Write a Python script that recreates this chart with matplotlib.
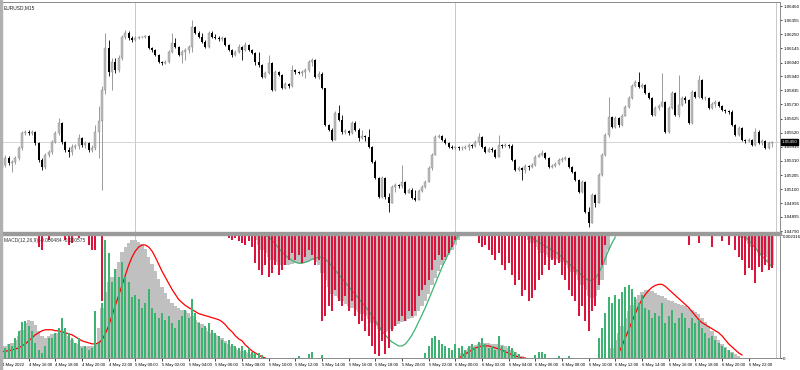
import numpy as np
import matplotlib
matplotlib.use('Agg')
import matplotlib.pyplot as plt
from matplotlib.patches import Rectangle

# EURUSD M15 quotes, in points above 1.00000 (4 May 14:00 .. 6 May 23:45)
first_open = 5258
close_pts = [
    5281, 5333, 5296, 5303, 5333, 5407, 5518, 5526, 5518, 5526,
    5444, 5318, 5266, 5355, 5377, 5451, 5518, 5592, 5451, 5392,
    5377, 5414, 5422, 5481, 5429, 5444, 5392, 5407, 5526, 5607,
    5837, 6149, 5971, 6045, 5986, 6075, 6230, 6260, 6223, 6208,
    6223, 6230, 6230, 6238, 6149, 6134, 6097, 6045, 6038, 6045,
    6119, 6186, 6156, 6097, 6119, 6134, 6156, 6305, 6260, 6230,
    6193, 6156, 6260, 6230, 6223, 6216, 6223, 6171, 6134, 6097,
    6119, 6156, 6134, 6171, 6134, 6112, 6045, 6023, 5934, 5963,
    6038, 5837, 5971, 5949, 5852, 5882, 5867, 5986, 5971, 5963,
    5971, 5986, 6045, 6060, 5934, 5956, 5852, 5578, 5540, 5466,
    5667, 5615, 5526, 5533, 5518, 5592, 5540, 5481, 5496, 5488,
    5414, 5303, 5184, 5043, 5184, 5043, 4999, 5118, 5132, 5125,
    5155, 5073, 5095, 5036, 5021, 5088, 5118, 5155, 5258, 5355,
    5488, 5496, 5466, 5444, 5414, 5407, 5414, 5407, 5407, 5414,
    5429, 5422, 5451, 5488, 5414, 5377, 5399, 5392, 5340, 5429,
    5422, 5429, 5422, 5318, 5244, 5258, 5244, 5273, 5266, 5281,
    5340, 5355, 5370, 5333, 5266, 5273, 5288, 5318, 5325, 5333,
    5266, 5229, 5169, 5080, 5155, 4932, 4850, 5058, 4999, 5207,
    5355, 5503, 5637, 5563, 5629, 5578, 5644, 5711, 5778, 5867,
    5897, 5859, 5874, 5815, 5778, 5652, 5704, 5718, 5748, 5526,
    5704, 5815, 5652, 5726, 5778, 5763, 5592, 5822, 5785, 5911,
    5778, 5778, 5704, 5733, 5748, 5718, 5689, 5681, 5674, 5578,
    5503, 5555, 5466, 5459, 5466, 5429, 5526, 5444, 5459, 5407,
    5444, 5451,
]
high_pts = [
    5303, 5355, 5348, 5318, 5348, 5422, 5533, 5540, 5540, 5540,
    5533, 5451, 5333, 5370, 5392, 5466, 5533, 5629, 5600, 5459,
    5414, 5437, 5437, 5511, 5488, 5459, 5451, 5429, 5578, 5718,
    5867, 6260, 6208, 6075, 6075, 6097, 6245, 6282, 6275, 6238,
    6238, 6238, 6238, 6245, 6245, 6156, 6141, 6104, 6052, 6060,
    6134, 6260, 6223, 6164, 6134, 6149, 6171, 6357, 6312, 6275,
    6260, 6208, 6275, 6275, 6253, 6238, 6238, 6230, 6179, 6141,
    6134, 6179, 6164, 6193, 6179, 6141, 6119, 6119, 6030, 5978,
    6097, 6045, 5986, 5978, 5956, 5897, 5889, 6023, 5993, 5978,
    5986, 6000, 6060, 6075, 6067, 5978, 5971, 5852, 5585, 5555,
    5681, 5726, 5652, 5548, 5540, 5607, 5607, 5555, 5540, 5503,
    5548, 5422, 5318, 5192, 5199, 5192, 5073, 5132, 5147, 5140,
    5281, 5162, 5110, 5110, 5095, 5103, 5132, 5169, 5273, 5370,
    5503, 5511, 5503, 5481, 5451, 5429, 5422, 5422, 5422, 5429,
    5444, 5437, 5466, 5518, 5496, 5422, 5414, 5414, 5399, 5503,
    5437, 5444, 5437, 5437, 5325, 5273, 5266, 5288, 5281, 5296,
    5355, 5370, 5392, 5377, 5340, 5288, 5303, 5333, 5340, 5348,
    5340, 5273, 5236, 5177, 5169, 5162, 4969, 5073, 5066, 5221,
    5370, 5518, 5785, 5644, 5644, 5637, 5659, 5726, 5793, 5882,
    5911, 5971, 5889, 5882, 5822, 5785, 5718, 5733, 5963, 5756,
    5718, 5830, 5822, 5949, 5793, 5793, 5770, 5837, 5830, 5949,
    5919, 5793, 5785, 5748, 5763, 5756, 5726, 5696, 5689, 5689,
    5585, 5570, 5563, 5474, 5481, 5474, 5555, 5540, 5474, 5466,
    5459, 5459,
]
low_pts = [
    5244, 5266, 5281, 5229, 5288, 5318, 5392, 5503, 5503, 5503,
    5429, 5303, 5244, 5251, 5340, 5362, 5444, 5503, 5437, 5377,
    5340, 5355, 5399, 5399, 5414, 5407, 5377, 5377, 5392, 5333,
    5095, 5807, 5941, 5837, 5963, 5971, 6060, 6216, 6208, 6193,
    6201, 6216, 6223, 6223, 6141, 6119, 6090, 6038, 6023, 6030,
    6038, 6112, 6149, 6090, 6038, 6060, 6112, 6119, 6253, 6223,
    6186, 6149, 6149, 6223, 6216, 6201, 6201, 6164, 6127, 6082,
    6090, 6112, 6060, 6127, 6127, 6104, 6023, 6008, 5926, 5926,
    5956, 5830, 5830, 5941, 5845, 5845, 5852, 5859, 5956, 5956,
    5941, 5926, 5971, 6015, 5926, 5919, 5845, 5570, 5533, 5459,
    5466, 5607, 5511, 5511, 5503, 5511, 5533, 5459, 5474, 5459,
    5407, 5296, 5177, 5036, 5036, 5028, 4932, 4999, 5080, 5110,
    5110, 5066, 5073, 5028, 5014, 5021, 5080, 5110, 5155, 5244,
    5355, 5481, 5459, 5437, 5407, 5399, 5399, 5392, 5392, 5399,
    5392, 5407, 5414, 5429, 5407, 5370, 5377, 5377, 5333, 5340,
    5407, 5414, 5407, 5310, 5236, 5236, 5169, 5221, 5244, 5258,
    5273, 5340, 5348, 5325, 5258, 5258, 5266, 5281, 5303, 5318,
    5258, 5221, 5162, 5073, 5073, 4925, 4821, 4850, 4969, 4999,
    5199, 5348, 5488, 5555, 5555, 5563, 5570, 5644, 5704, 5770,
    5859, 5852, 5852, 5807, 5770, 5644, 5644, 5689, 5711, 5518,
    5518, 5696, 5644, 5637, 5718, 5741, 5585, 5585, 5778, 5778,
    5770, 5763, 5696, 5696, 5711, 5711, 5681, 5667, 5659, 5570,
    5496, 5496, 5459, 5444, 5451, 5422, 5422, 5437, 5429, 5399,
    5399, 5414,
]

# indicator pane, values in 1e-6
macd_up = [
    285, 190, 266, 228, 380, 513, 684, 703, 608, 513,
    285, 152, 95, 228, 380, 380, 475, 570, 760, 570,
    475, 380, 285, 380, 190, 228, 152, 190, 893, 285,
    1045, 2223, 1976, 1425, 1672, 1520, 1805, 1520, 1425, 1140,
    1178, 1102, 950, 1045, 1292, 950, 855, 760, 855, 722,
    798, 665, 570, 722, 798, 912, 760, 1102, 855, 665,
    570, 608, 665, 532, 475, 418, 342, 285, 342, 266,
    228, 190, 228, 152, 190, 114, 95, 95, 57, 0,
    0, 0, 0, 0, 0, 0, 0, 0, 0, 38,
    0, 0, 76, 114, 0, 0, 57, 0, 0, 0,
    0, 0, 0, 0, 0, 0, 0, 0, 0, 0,
    0, 0, 0, 0, 0, 0, 0, 0, 0, 0,
    0, 0, 0, 0, 0, 0, 0, 95, 228, 380,
    418, 342, 266, 228, 190, 152, 266, 190, 228, 152,
    228, 266, 190, 304, 380, 266, 190, 228, 152, 418,
    228, 152, 228, 190, 114, 76, 0, 0, 0, 0,
    57, 114, 114, 76, 0, 0, 0, 38, 0, 0,
    38, 0, 0, 0, 0, 0, 0, 0, 0, 380,
    570, 855, 1140, 1045, 1178, 1102, 1235, 1330, 1368, 1292,
    1140, 1045, 1178, 950, 912, 760, 855, 798, 1045, 665,
    798, 912, 665, 760, 855, 760, 570, 760, 665, 722,
    570, 475, 380, 418, 342, 285, 228, 190, 152, 95,
    0, 0, 0, 0, 0, 0, 0, 0, 0, 0,
    0, 0,
]
macd_dn = [
    0, 0, 0, 0, 0, 0, 0, 0, 0, 0,
    0, 228, 285, 0, 95, 0, 0, 0, 0, 95,
    190, 152, 0, 57, 0, 0, 190, 285, 285, 0,
    1235, 0, 0, 0, 0, 0, 0, 0, 0, 0,
    0, 0, 0, 0, 0, 0, 0, 0, 0, 0,
    0, 0, 0, 0, 0, 0, 0, 0, 0, 0,
    0, 0, 0, 0, 0, 0, 0, 0, 57, 95,
    57, 114, 152, 190, 114, 228, 532, 665, 760, 570,
    798, 722, 570, 760, 665, 570, 475, 342, 475, 380,
    532, 418, 285, 380, 570, 475, 1615, 1520, 1330, 1425,
    1045, 1235, 1330, 1140, 1425, 1235, 1520, 1672, 1615, 1805,
    1900, 2090, 2242, 2280, 1995, 2242, 2128, 1805, 1710, 1615,
    1520, 1615, 1425, 1520, 1425, 1140, 1045, 950, 855, 665,
    475, 380, 475, 418, 342, 228, 95, 0, 0, 0,
    0, 0, 0, 152, 228, 190, 285, 380, 475, 342,
    570, 665, 532, 760, 950, 855, 1140, 1045, 1235, 1178,
    1045, 855, 760, 570, 665, 475, 570, 532, 760, 855,
    1045, 1140, 1235, 1520, 1330, 1615, 1805, 1425, 1330, 950,
    570, 190, 0, 0, 0, 0, 0, 0, 0, 0,
    0, 0, 0, 0, 0, 0, 0, 0, 0, 0,
    0, 0, 0, 0, 0, 0, 190, 0, 0, 152,
    0, 0, 0, 228, 0, 0, 114, 0, 190, 0,
    285, 418, 475, 760, 627, 665, 912, 608, 703, 570,
    665, 627,
]
macd_grey = [
    228, 228, 266, 285, 342, 418, 532, 665, 722, 703,
    627, 513, 418, 380, 418, 456, 475, 475, 513, 475,
    418, 342, 285, 266, 228, 209, 228, 228, 266, 570,
    950, 1235, 1425, 1520, 1672, 1805, 1995, 2090, 2166, 2223,
    2223, 2185, 2147, 2052, 1900, 1767, 1634, 1482, 1330, 1216,
    1102, 1045, 988, 950, 912, 893, 855, 798, 722, 684,
    646, 570, 513, 475, 437, 418, 380, 323, 266, 228,
    190, 152, 133, 114, 95, 76, -95, -190, -285, -342,
    -418, -475, -513, -570, -570, -570, -570, -551, -532, -532,
    -532, -513, -494, -475, -513, -570, -722, -855, -988, -1102,
    -1140, -1178, -1235, -1292, -1330, -1368, -1406, -1444, -1482, -1520,
    -1577, -1653, -1710, -1767, -1805, -1824, -1805, -1767, -1710, -1672,
    -1634, -1615, -1577, -1558, -1520, -1425, -1330, -1235, -1102, -950,
    -817, -684, -570, -475, -380, -285, -190, -95, 95, 152,
    190, 228, 247, 266, 285, 285, 285, 266, 266, 266,
    247, 228, 190, 152, 114, 76, 38, 0, -95, -152,
    -228, -285, -342, -380, -418, -437, -456, -475, -513, -570,
    -627, -703, -760, -855, -950, -1045, -1140, -1178, -1140, -1045,
    -855, -570, -285, 190, 342, 475, 608, 760, 893, 1007,
    1102, 1178, 1235, 1273, 1273, 1254, 1216, 1178, 1159, 1121,
    1083, 1064, 1045, 1026, 1007, 988, 950, 912, 874, 836,
    760, 684, 608, 513, 418, 342, 266, 209, 152, 114,
    76, 38, -57, -114, -171, -228, -285, -342, -380, -418,
    -494, -570,
]
macd_signal = [
    114, 133, 133, 152, 171, 190, 228, 266, 323, 380,
    437, 475, 513, 532, 532, 532, 513, 513, 494, 475,
    456, 437, 399, 361, 323, 304, 285, 266, 266, 285,
    342, 456, 608, 798, 988, 1178, 1368, 1558, 1748, 1900,
    2014, 2090, 2128, 2128, 2090, 2014, 1900, 1767, 1634, 1520,
    1406, 1292, 1197, 1102, 1045, 988, 950, 912, 874, 836,
    817, 798, 779, 760, 741, 722, 684, 627, 551, 494,
    418, 361, 323, 247, 190, 133, 95, 57, 19, 0,
    -38, -95, -171, -247, -323, -380, -437, -475, -513, -532,
    -532, -513, -494, -456, -437, -418, -418, -456, -513, -589,
    -665, -741, -817, -893, -969, -1045, -1121, -1197, -1273, -1349,
    -1425, -1520, -1615, -1710, -1805, -1881, -1957, -2014, -2052, -2090,
    -2090, -2052, -1976, -1881, -1767, -1634, -1501, -1368, -1216, -1064,
    -912, -760, -608, -475, -342, -209, -95, 0, 38, 76,
    114, 152, 190, 209, 228, 228, 228, 209, 190, 171,
    152, 114, 95, 57, 38, 19, 0, 0, -19, -57,
    -95, -133, -171, -209, -247, -285, -323, -361, -418, -475,
    -532, -589, -646, -703, -760, -817, -855, -855, -817, -722,
    -589, -437, -285, -152, -38, 95, 228, 380, 532, 684,
    836, 988, 1102, 1197, 1273, 1330, 1368, 1387, 1387, 1349,
    1292, 1235, 1178, 1121, 1064, 1007, 950, 874, 798, 722,
    665, 627, 589, 551, 513, 475, 418, 342, 266, 209,
    152, 95, 57, -38, -95, -171, -247, -323, -399, -456,
    -532, -608,
]
macd_max = 2316

price_ticks = [1.06460, 1.06355, 1.06250, 1.06145, 1.06040, 1.05940, 1.05835,
               1.05730, 1.05625, 1.05520, 1.05415, 1.05310, 1.05205, 1.05100,
               1.04995, 1.04895, 1.04790]
last_price = 1.05450

time_labels = ['4 May 2022', '4 May 16:00', '4 May 18:00', '4 May 20:00', '4 May 22:00',
               '5 May 00:00', '5 May 02:00', '5 May 04:00', '5 May 06:00', '5 May 08:00',
               '5 May 10:00', '5 May 12:00', '5 May 14:00', '5 May 16:00', '5 May 18:00',
               '5 May 20:00', '5 May 22:00', '6 May 00:00', '6 May 02:00', '6 May 04:00',
               '6 May 06:00', '6 May 08:00', '6 May 10:00', '6 May 12:00', '6 May 14:00',
               '6 May 16:00', '6 May 18:00', '6 May 20:00', '6 May 22:00']
day_starts = ['5 May 00:00', '6 May 00:00']

symbol_label = 'EURUSD,M15'
macd_label = 'MACD(12,26,9) -0.000484 -0.000575'

FONT = ['Liberation Sans', 'DejaVu Sans']
FS_PRICE = 3.2
FS_TIME = 3.1


def main():
    W, H = 800, 370
    fig = plt.figure(figsize=(W / 100, H / 100), dpi=100)
    fig.patch.set_facecolor('white')

    def px_axes(x0, y0, x1, y1):
        return fig.add_axes([x0 / W, 1 - y1 / H, (x1 - x0) / W, (y1 - y0) / H])

    ax = px_axes(1, 2, 780, 232)
    ax2 = px_axes(1, 235, 780, 358)

    close = 1 + np.array(close_pts) / 1e5
    high = 1 + np.array(high_pts) / 1e5
    low = 1 + np.array(low_pts) / 1e5
    opn = np.concatenate([[1 + first_open / 1e5], close[:-1]])
    n = len(close)
    x = np.arange(n)
    xlim = (-0.3, 233.4)

    # velas
    up = close >= opn
    ax.vlines(x[up], low[up], high[up], color='#9a9a9a', lw=0.7, zorder=2)
    ax.vlines(x[~up], low[~up], high[~up], color='#202020', lw=0.7, zorder=2)
    body_lo = np.minimum(opn, close)
    body_h = np.maximum(np.abs(close - opn), 0.000012)
    ax.bar(x[up], body_h[up], bottom=body_lo[up], width=0.62, color='#bcbcbc',
           edgecolor='#8c8c8c', linewidth=0.3, zorder=3)
    ax.bar(x[~up], body_h[~up], bottom=body_lo[~up], width=0.62, color='#000000',
           linewidth=0, zorder=3)

    ax.axhline(last_price, color='#cfcfcf', lw=0.6, zorder=1)
    ax.set_xlim(*xlim)
    ax.set_ylim(1.04783, 1.06490)

    # eje de precios a la derecha
    ax.yaxis.tick_right()
    ax.set_yticks(price_ticks)
    ax.set_yticklabels(['%.5f' % p for p in price_ticks], family=FONT)
    ax.tick_params(axis='y', labelsize=FS_PRICE, length=1.5, width=0.5, pad=0.8,
                   colors='#000000')
    ax.set_xticks([])
    ax.text(1.0025, last_price, '%.5f' % last_price, transform=ax.get_yaxis_transform(),
            fontsize=FS_PRICE, family=FONT, color='white', va='center', ha='left',
            zorder=20, bbox=dict(boxstyle='square,pad=0.15', fc='black', ec='black'))
    ax.text(0.004, 0.985, symbol_label, transform=ax.transAxes, fontsize=3.5,
            family=FONT, va='top', ha='left', color='#202020')

    # panel MACD
    top = macd_max
    g_up = np.array(macd_up)
    g_dn = np.array(macd_dn)
    grey = np.array(macd_grey)
    sig = np.array(macd_signal, dtype=float)

    gp = grey > 0
    gn = grey < 0
    ax2.bar(x[gp], grey[gp], bottom=0, width=1.0, color='#c0c0c0', linewidth=0, zorder=1)
    ax2.bar(x[gn], -grey[gn], bottom=top + grey[gn], width=1.0, color='#c0c0c0',
            linewidth=0, zorder=1)

    red_y = np.where(sig >= 0, sig, np.nan)
    green_y = np.where(sig <= 0, top + sig, np.nan)
    ax2.plot(x, red_y, color='#ff0000', lw=0.9, zorder=2)
    ax2.plot(x, green_y, color='#3cb371', lw=0.9, zorder=2)

    m = g_up > 0
    ax2.bar(x[m], g_up[m], bottom=0, width=0.58, color='#3cb371', linewidth=0, zorder=3)
    m = g_dn > 0
    ax2.bar(x[m], g_dn[m], bottom=top - g_dn[m], width=0.58, color='#dc143c',
            linewidth=0, zorder=3)

    ax2.set_xlim(*xlim)
    ax2.set_ylim(0, top)
    ax2.yaxis.tick_right()
    ax2.set_yticks([0, top])
    ax2.set_yticklabels(['0', '%.6f' % (top / 1e6)], family=FONT)
    ax2.tick_params(axis='y', labelsize=FS_PRICE, length=1.5, width=0.5, pad=0.8)
    ax2.get_yticklabels()[1].set_va('top')
    ax2.text(0.004, 0.975, macd_label, transform=ax2.transAxes, fontsize=3.5,
             family=FONT, va='top', ha='left', color='#303030', zorder=5)

    # eje de tiempo: una etiqueta cada 8 velas (2 horas)
    tpos = [8 * k for k in range(len(time_labels))]
    ax2.set_xticks(tpos)
    ax2.set_xticklabels(time_labels, family=FONT)
    ax2.tick_params(axis='x', labelsize=FS_TIME, length=2, width=0.5, pad=1.5)
    for lbl in ax2.get_xticklabels():
        lbl.set_ha('left')

    # separadores de dia y linea de desplazamiento
    for lab in day_starts:
        xi = tpos[time_labels.index(lab)]
        for a in (ax, ax2):
            a.axvline(xi, color='#808080', lw=0.6, ls=(0, (1.2, 1.2)), zorder=0.5)
    for a in (ax, ax2):
        a.axvline(232.3, color='#808080', lw=0.6, ls=(0, (1.2, 1.2)), zorder=0.5)
        for s in a.spines.values():
            s.set_color('#8a8a8a')
            s.set_linewidth(0.7)
        a.set_facecolor('white')

    # barra separadora entre paneles
    fig.patches.append(Rectangle((0, 1 - 234.5 / H), 781 / W, 2.5 / H,
                                 transform=fig.transFigure, color='#9a9a9a', zorder=10))
    fig.patches.append(Rectangle((0, 0), 1.5 / W, 1, transform=fig.transFigure,
                                 color='#b0b0b0', zorder=10))

    fig.savefig('out.png', dpi=100, facecolor='white')


if __name__ == "__main__":
    main()
